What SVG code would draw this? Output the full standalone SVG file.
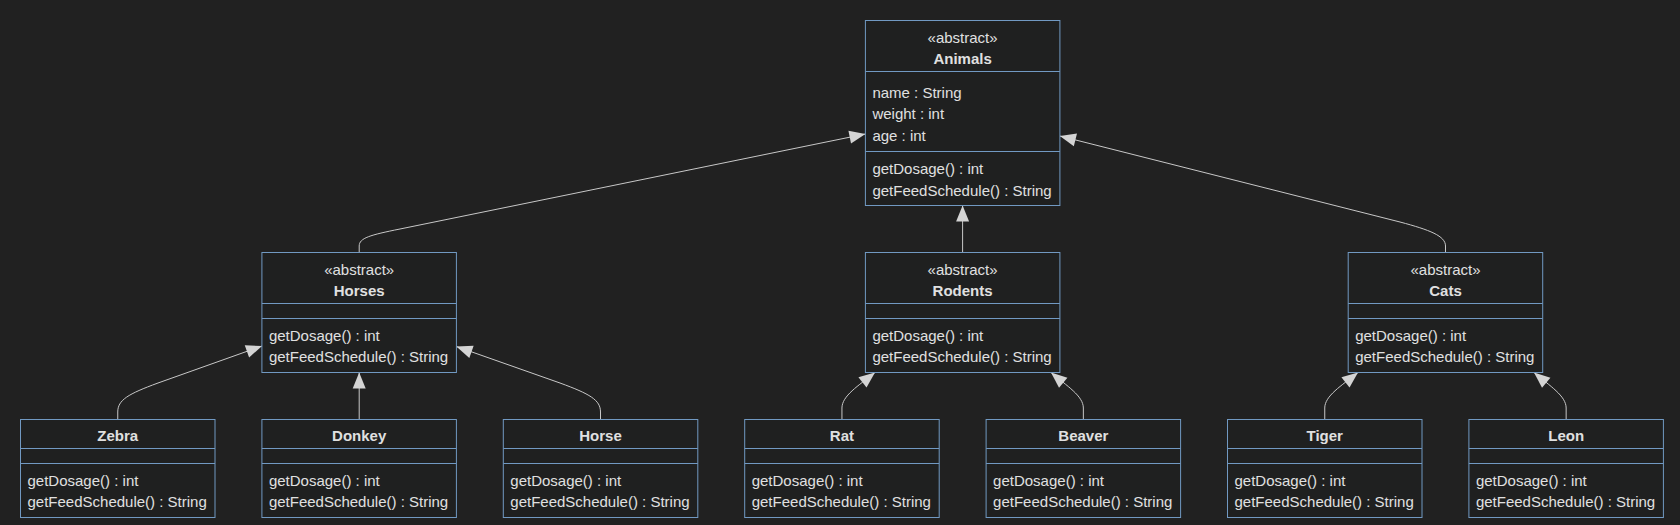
<svg xmlns="http://www.w3.org/2000/svg" width="1680" height="525" viewBox="0 0 1680 525">
<style>
.bg{fill:#212121}
.box{fill:#1f2020;stroke:#7199c2;stroke-width:1}
.div{stroke:#7199c2;stroke-width:1}
text{font-family:"Liberation Sans",Arial,sans-serif;font-size:15px;fill:#e0e0e0}
.t{text-anchor:middle}
.b{font-weight:bold}
.edge{fill:none;stroke:#c8c8c8;stroke-width:1}
</style>
<defs>
<marker id="ext" markerUnits="userSpaceOnUse" markerWidth="18" markerHeight="14" refX="16" refY="6.5" orient="auto" overflow="visible">
<path d="M0,0 L16,6.5 L0,13 Z" fill="#d4d4d4"/>
</marker>
</defs>
<rect class="bg" x="0" y="0" width="1680" height="525"/>

<g id="edges">
<path class="edge" marker-end="url(#ext)" d="M359.2,252.5 L359.2,246 C359.2,238 370,235 400,229 L865.4,134"/>
<path class="edge" marker-end="url(#ext)" d="M962.6,252.5 L962.6,205.5"/>
<path class="edge" marker-end="url(#ext)" d="M1445.5,252.5 L1445.5,246 C1445.5,236 1430,230 1400,222 L1059.9,136"/>
<path class="edge" marker-end="url(#ext)" d="M117.75,419.5 L117.75,412 C117.75,400 128,394 158,383 L262,346"/>
<path class="edge" marker-end="url(#ext)" d="M359.2,419.5 L359.2,372.5"/>
<path class="edge" marker-end="url(#ext)" d="M600.5,419.5 L600.5,412 C600.5,400 590,394 560,383 L456.4,346.5"/>
<path class="edge" marker-end="url(#ext)" d="M841.95,419.5 L841.95,408 C841.95,396 858,386 875,372.5"/>
<path class="edge" marker-end="url(#ext)" d="M1083.35,419.5 L1083.35,408 C1083.35,396 1067,386 1051,372.5"/>
<path class="edge" marker-end="url(#ext)" d="M1324.75,419.5 L1324.75,408 C1324.75,396 1341,386 1358,372.5"/>
<path class="edge" marker-end="url(#ext)" d="M1566.15,419.5 L1566.15,408 C1566.15,396 1550,386 1534,372.5"/>
</g>

<g id="Animals">
<rect class="box" x="865.4" y="20.5" width="194.5" height="185"/>
<line class="div" x1="865.4" y1="71.5" x2="1059.9" y2="71.5"/>
<line class="div" x1="865.4" y1="151.5" x2="1059.9" y2="151.5"/>
<text class="t" x="962.6" y="43">«abstract»</text>
<text class="t b" x="962.6" y="64">Animals</text>
<text x="872.4" y="97.5">name : String</text>
<text x="872.4" y="119">weight : int</text>
<text x="872.4" y="140.5">age : int</text>
<text x="872.4" y="174">getDosage() : int</text>
<text x="872.4" y="195.5">getFeedSchedule() : String</text>
</g>

<g id="Horses">
<rect class="box" x="261.9" y="252.5" width="194.5" height="120"/>
<line class="div" x1="261.9" y1="303.5" x2="456.4" y2="303.5"/>
<line class="div" x1="261.9" y1="318.5" x2="456.4" y2="318.5"/>
<text class="t" x="359.2" y="274.5">«abstract»</text>
<text class="t b" x="359.2" y="295.5">Horses</text>
<text x="268.9" y="340.5">getDosage() : int</text>
<text x="268.9" y="362">getFeedSchedule() : String</text>
</g>

<g id="Rodents">
<rect class="box" x="865.4" y="252.5" width="194.5" height="120"/>
<line class="div" x1="865.4" y1="303.5" x2="1059.9" y2="303.5"/>
<line class="div" x1="865.4" y1="318.5" x2="1059.9" y2="318.5"/>
<text class="t" x="962.6" y="274.5">«abstract»</text>
<text class="t b" x="962.6" y="295.5">Rodents</text>
<text x="872.4" y="340.5">getDosage() : int</text>
<text x="872.4" y="362">getFeedSchedule() : String</text>
</g>

<g id="Cats">
<rect class="box" x="1348.2" y="252.5" width="194.5" height="120"/>
<line class="div" x1="1348.2" y1="303.5" x2="1542.7" y2="303.5"/>
<line class="div" x1="1348.2" y1="318.5" x2="1542.7" y2="318.5"/>
<text class="t" x="1445.5" y="274.5">«abstract»</text>
<text class="t b" x="1445.5" y="295.5">Cats</text>
<text x="1355.2" y="340.5">getDosage() : int</text>
<text x="1355.2" y="362">getFeedSchedule() : String</text>
</g>

<g id="Zebra">
<rect class="box" x="20.5" y="419.5" width="194.5" height="98"/>
<line class="div" x1="20.5" y1="448.5" x2="215" y2="448.5"/>
<line class="div" x1="20.5" y1="463.5" x2="215" y2="463.5"/>
<text class="t b" x="117.75" y="440.5">Zebra</text>
<text x="27.5" y="486">getDosage() : int</text>
<text x="27.5" y="507">getFeedSchedule() : String</text>
</g>

<g id="Donkey">
<rect class="box" x="261.9" y="419.5" width="194.5" height="98"/>
<line class="div" x1="261.9" y1="448.5" x2="456.4" y2="448.5"/>
<line class="div" x1="261.9" y1="463.5" x2="456.4" y2="463.5"/>
<text class="t b" x="359.2" y="440.5">Donkey</text>
<text x="268.9" y="486">getDosage() : int</text>
<text x="268.9" y="507">getFeedSchedule() : String</text>
</g>

<g id="Horse">
<rect class="box" x="503.3" y="419.5" width="194.5" height="98"/>
<line class="div" x1="503.3" y1="448.5" x2="697.8" y2="448.5"/>
<line class="div" x1="503.3" y1="463.5" x2="697.8" y2="463.5"/>
<text class="t b" x="600.55" y="440.5">Horse</text>
<text x="510.3" y="486">getDosage() : int</text>
<text x="510.3" y="507">getFeedSchedule() : String</text>
</g>

<g id="Rat">
<rect class="box" x="744.7" y="419.5" width="194.5" height="98"/>
<line class="div" x1="744.7" y1="448.5" x2="939.2" y2="448.5"/>
<line class="div" x1="744.7" y1="463.5" x2="939.2" y2="463.5"/>
<text class="t b" x="841.95" y="440.5">Rat</text>
<text x="751.7" y="486">getDosage() : int</text>
<text x="751.7" y="507">getFeedSchedule() : String</text>
</g>

<g id="Beaver">
<rect class="box" x="986.1" y="419.5" width="194.5" height="98"/>
<line class="div" x1="986.1" y1="448.5" x2="1180.6" y2="448.5"/>
<line class="div" x1="986.1" y1="463.5" x2="1180.6" y2="463.5"/>
<text class="t b" x="1083.35" y="440.5">Beaver</text>
<text x="993.1" y="486">getDosage() : int</text>
<text x="993.1" y="507">getFeedSchedule() : String</text>
</g>

<g id="Tiger">
<rect class="box" x="1227.5" y="419.5" width="194.5" height="98"/>
<line class="div" x1="1227.5" y1="448.5" x2="1422" y2="448.5"/>
<line class="div" x1="1227.5" y1="463.5" x2="1422" y2="463.5"/>
<text class="t b" x="1324.75" y="440.5">Tiger</text>
<text x="1234.5" y="486">getDosage() : int</text>
<text x="1234.5" y="507">getFeedSchedule() : String</text>
</g>

<g id="Leon">
<rect class="box" x="1468.9" y="419.5" width="194.5" height="98"/>
<line class="div" x1="1468.9" y1="448.5" x2="1663.4" y2="448.5"/>
<line class="div" x1="1468.9" y1="463.5" x2="1663.4" y2="463.5"/>
<text class="t b" x="1566.15" y="440.5">Leon</text>
<text x="1475.9" y="486">getDosage() : int</text>
<text x="1475.9" y="507">getFeedSchedule() : String</text>
</g>
</svg>
